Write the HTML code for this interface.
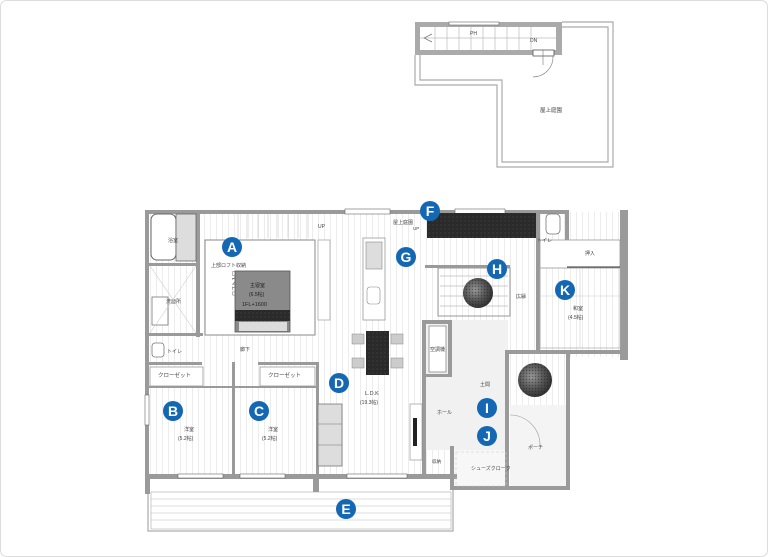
<!DOCTYPE html>
<html><head><meta charset="utf-8"><style>
html,body{margin:0;padding:0;background:#fff}
svg{display:block}
text{font-family:"Liberation Sans","Noto Sans CJK JP",sans-serif;fill:#444}
</style></head><body>
<svg width="768" height="557" viewBox="0 0 768 557" xmlns="http://www.w3.org/2000/svg">
<defs>
<pattern id="fl" width="6" height="10" patternUnits="userSpaceOnUse"><rect width="6" height="10" fill="#fff"/><line x1="0.5" y1="0" x2="0.5" y2="10" stroke="#ececec" stroke-width="1"/></pattern>
<pattern id="dk" width="4" height="4" patternUnits="userSpaceOnUse"><rect width="4" height="4" fill="#2a2a2a"/><circle cx="1" cy="1" r="0.5" fill="#555"/></pattern>
<radialGradient id="tr" cx="0.4" cy="0.4" r="0.6"><stop offset="0" stop-color="#999"/><stop offset="0.6" stop-color="#555"/><stop offset="1" stop-color="#333"/></radialGradient>
<pattern id="tx" width="3" height="3" patternUnits="userSpaceOnUse"><circle cx="1.5" cy="1.5" r="0.7" fill="#222" opacity="0.5"/></pattern>
</defs>
<rect x="0.5" y="0.5" width="767" height="556" rx="6" fill="#fff" stroke="#ddd"/>

<!-- Roof -->
<path d="M562 22 H613 V167 H497 V85 H415 V55" fill="none" stroke="#aaa" stroke-width="1.2"/>
<path d="M562 27 H608 V162 H502 V80 H420 V55" fill="none" stroke="#aaa" stroke-width="1.2"/>
<rect x="415" y="22" width="147" height="33" fill="#aaa"/>
<rect x="420" y="27" width="136" height="23" fill="#fff"/>
<rect x="449" y="22" width="50" height="3" fill="#fff" stroke="#666" stroke-width="0.6"/>
<g stroke="#bbb" stroke-width="0.7">
<line x1="420" y1="38" x2="556" y2="38"/>
<line x1="435" y1="27" x2="435" y2="50"/><line x1="447" y1="27" x2="447" y2="50"/><line x1="459" y1="27" x2="459" y2="50"/><line x1="471" y1="27" x2="471" y2="50"/><line x1="483" y1="27" x2="483" y2="50"/><line x1="495" y1="27" x2="495" y2="50"/><line x1="507" y1="27" x2="507" y2="50"/><line x1="519" y1="27" x2="519" y2="50"/><line x1="531" y1="27" x2="531" y2="50"/>
</g>
<path d="M432 34 L424 38 L432 42" fill="none" stroke="#777" stroke-width="0.7"/>
<text x="470" y="35" font-size="5">PH</text>
<text x="530" y="42" font-size="5">DN</text>
<rect x="533" y="50" width="21" height="6" fill="#fff" stroke="#555" stroke-width="0.8"/>
<path d="M533 77 A 20 20 0 0 0 553 56" fill="none" stroke="#888" stroke-width="0.7"/>
<line x1="543" y1="50" x2="543" y2="65" stroke="#777" stroke-width="0.6"/>
<text x="540" y="112" font-size="5.5">屋上庭園</text>

<!-- Deck E -->
<rect x="148" y="478" width="305" height="53" fill="#fff" stroke="#999" stroke-width="1"/>
<rect x="151" y="492" width="300" height="37" fill="#fff" stroke="#aaa" stroke-width="0.6"/>
<g stroke="#bbb" stroke-width="0.6"><line x1="151" y1="499" x2="451" y2="499"/><line x1="151" y1="506" x2="451" y2="506"/><line x1="151" y1="513" x2="451" y2="513"/><line x1="151" y1="520" x2="451" y2="520"/></g>

<!-- floor -->
<path d="M147 212 H628 V357 H570 V490 H452 V478 H147 Z" fill="url(#fl)"/>
<rect x="425" y="320" width="83" height="130" fill="#f1f1f1"/>
<rect x="510" y="405" width="58" height="84" fill="#f4f4f4"/>
<rect x="454" y="450" width="54" height="38" fill="#f7f7f7"/>

<!-- walls -->
<g fill="#9a9a9a">
<rect x="145" y="210" width="400" height="4"/>
<rect x="145" y="210" width="4" height="270"/>
<rect x="145" y="474" width="312" height="5"/>
<rect x="313" y="474" width="6" height="18"/>
<rect x="145" y="478" width="5" height="16"/>
<rect x="545" y="210" width="20" height="4"/>
<rect x="620" y="210" width="8" height="150"/>
<rect x="565" y="210" width="4" height="30"/>
<rect x="505" y="350" width="123" height="4"/>
<rect x="505" y="350" width="4" height="138"/>
<rect x="566" y="350" width="4" height="140"/>
<rect x="450" y="446" width="4" height="44"/>
<rect x="450" y="486" width="120" height="4"/>
<rect x="422" y="320" width="4" height="158"/>
<rect x="422" y="320" width="30" height="4"/>
<rect x="448" y="320" width="4" height="55"/>
<rect x="422" y="374" width="30" height="3"/>
<rect x="425" y="265" width="85" height="3"/>
<rect x="536" y="210" width="4" height="140"/>
<rect x="196" y="212" width="4" height="125"/>
<rect x="147" y="333" width="56" height="3"/>
<rect x="147" y="263" width="52" height="3"/>
<rect x="147" y="362" width="55" height="3"/>
<rect x="232" y="362" width="3" height="115"/>
<rect x="316" y="362" width="3" height="115"/>
<rect x="258" y="362" width="58" height="3"/>
<rect x="147" y="386" width="85" height="2"/>
<rect x="235" y="386" width="81" height="2"/>
</g>
<!-- windows -->
<g fill="#fff" stroke="#666" stroke-width="0.6">
<rect x="345" y="209" width="45" height="5"/>
<rect x="455" y="209" width="50" height="5"/>
<rect x="178" y="474" width="45" height="4"/>
<rect x="240" y="474" width="45" height="4"/>
<rect x="347" y="474" width="60" height="4"/>
<rect x="145" y="395" width="4" height="30"/>
</g>
<!-- stairs top dark -->
<rect x="427" y="213" width="109" height="25" fill="url(#dk)"/>
<!-- stair slats H -->
<g stroke="#bbb" stroke-width="0.7"><line x1="440" y1="276" x2="508" y2="276"/><line x1="440" y1="286" x2="508" y2="286"/><line x1="440" y1="296" x2="508" y2="296"/><line x1="440" y1="306" x2="508" y2="306"/></g>
<rect x="438" y="268" width="72" height="48" fill="none" stroke="#999" stroke-width="1"/>
<circle cx="478" cy="293" r="15" fill="url(#tr)"/><circle cx="478" cy="293" r="15" fill="url(#tx)"/>
<circle cx="535" cy="380" r="17" fill="url(#tr)"/><circle cx="535" cy="380" r="17" fill="url(#tx)"/>
<!-- upper stairs -->
<g stroke="#ccc" stroke-width="0.7"><line x1="238" y1="214" x2="238" y2="238"/><line x1="248" y1="214" x2="248" y2="238"/><line x1="258" y1="214" x2="258" y2="238"/><line x1="268" y1="214" x2="268" y2="238"/><line x1="278" y1="214" x2="278" y2="238"/><line x1="288" y1="214" x2="288" y2="238"/><line x1="298" y1="214" x2="298" y2="238"/><line x1="308" y1="214" x2="308" y2="238"/></g>
<text x="318" y="228" font-size="5">UP</text>

<!-- bath -->
<rect x="151" y="214" width="25" height="46" rx="6" fill="#fff" stroke="#666" stroke-width="1"/>
<rect x="176" y="214" width="20" height="47" fill="#ddd" stroke="#666" stroke-width="0.8"/>
<text x="168" y="242" font-size="5">浴室</text>
<rect x="152" y="297" width="16" height="28" fill="#fff" stroke="#777" stroke-width="0.8"/>
<text x="166" y="303" font-size="5">洗面所</text>
<line x1="150" y1="266" x2="196" y2="333" stroke="#ccc" stroke-width="0.6"/><line x1="196" y1="266" x2="150" y2="333" stroke="#ccc" stroke-width="0.6"/>
<rect x="152" y="343" width="12" height="14" rx="3" fill="#fff" stroke="#777" stroke-width="0.8"/>
<text x="167" y="353" font-size="5">トイレ</text>

<!-- loft & master -->
<rect x="205" y="240" width="110" height="95" fill="#fff" stroke="#888" stroke-width="1"/>
<text x="211" y="267" font-size="5">上部ロフト収納</text>
<text x="215" y="305" font-size="5" transform="rotate(-90 221 290)">ロフト入口</text>
<rect x="235" y="271" width="55" height="61" fill="#8a8a8a" stroke="#555" stroke-width="0.8"/>
<rect x="235" y="310" width="55" height="11" fill="url(#dk)"/>
<rect x="239" y="322" width="48" height="9" fill="#ddd"/>
<text x="250" y="287" font-size="5" style="fill:#222">主寝室</text>
<text x="249" y="296" font-size="5" style="fill:#222">(6.5帖)</text>
<text x="242" y="306" font-size="5.5" style="fill:#222">1FL+1600</text>
<rect x="318" y="240" width="12" height="80" fill="#fff" stroke="#aaa" stroke-width="0.8"/>

<!-- kitchen -->
<rect x="363" y="238" width="22" height="82" fill="#fff" stroke="#999" stroke-width="0.8"/>
<rect x="366" y="242" width="16" height="27" fill="#ddd" stroke="#888" stroke-width="0.6"/>
<rect x="367" y="287" width="13" height="17" rx="3" fill="#fff" stroke="#888" stroke-width="0.6"/>
<text x="393" y="224" font-size="5">屋上庭園</text><text x="413" y="230" font-size="4.5">UP</text>
<!-- dining -->
<rect x="366" y="331" width="23" height="44" fill="url(#dk)"/>
<g fill="#ccc" stroke="#888" stroke-width="0.5"><rect x="352" y="334" width="12" height="10"/><rect x="352" y="358" width="12" height="10"/><rect x="391" y="334" width="12" height="10"/><rect x="391" y="358" width="12" height="10"/></g>
<text x="365" y="395" font-size="5.5">L.D.K</text>
<text x="360" y="404" font-size="5">(19.3帖)</text>
<rect x="429" y="326" width="17" height="46" fill="#fff" stroke="#888" stroke-width="0.8"/>
<text x="430" y="351" font-size="5">空調機</text>
<!-- sofa -->
<rect x="318" y="404" width="24" height="62" fill="#ddd" stroke="#777" stroke-width="0.8"/>
<line x1="318" y1="424" x2="342" y2="424" stroke="#777" stroke-width="0.6"/><line x1="318" y1="445" x2="342" y2="445" stroke="#777" stroke-width="0.6"/>
<rect x="410" y="404" width="12" height="56" fill="#fff" stroke="#888" stroke-width="0.6"/>
<rect x="413" y="418" width="4" height="28" fill="#222"/>

<!-- closets -->
<rect x="150" y="367" width="53" height="19" fill="#fff" stroke="#999" stroke-width="0.8"/>
<rect x="260" y="367" width="55" height="19" fill="#fff" stroke="#999" stroke-width="0.8"/>
<text x="158" y="377" font-size="5.5">クローゼット</text>
<text x="268" y="377" font-size="5.5">クローゼット</text>
<text x="240" y="351" font-size="5">廊下</text>
<text x="184" y="431" font-size="5">洋室</text><text x="178" y="440" font-size="5">(5.2帖)</text>
<text x="268" y="431" font-size="5">洋室</text><text x="262" y="440" font-size="5">(5.2帖)</text>

<!-- right side -->
<rect x="540" y="240" width="80" height="28" fill="#fff" stroke="#999" stroke-width="0.8"/>
<line x1="567" y1="267" x2="620" y2="267" stroke="#333" stroke-width="1"/>
<text x="585" y="255" font-size="5">押入</text>
<rect x="540" y="268" width="80" height="80" fill="none" stroke="#aaa" stroke-width="0.7"/>
<line x1="580" y1="268" x2="580" y2="348" stroke="#ccc" stroke-width="0.6"/><line x1="540" y1="296" x2="620" y2="296" stroke="#ccc" stroke-width="0.6"/>
<text x="573" y="310" font-size="5">和室</text><text x="568" y="319" font-size="5">(4.5帖)</text>
<text x="516" y="298" font-size="5">広縁</text>
<rect x="546" y="214" width="14" height="20" rx="4" fill="#fff" stroke="#777" stroke-width="0.8"/>
<text x="537" y="242" font-size="5">トイレ</text>
<text x="480" y="386" font-size="5">土間</text>
<text x="437" y="414" font-size="5">ホール</text>
<text x="528" y="449" font-size="5">ポーチ</text>
<rect x="456" y="452" width="50" height="34" fill="none" stroke="#ccc" stroke-dasharray="3 2" stroke-width="0.6"/>
<text x="471" y="470" font-size="5">シューズクローク</text>
<text x="432" y="463" font-size="4.5">収納</text>
<path d="M510 415 A 30 30 0 0 1 540 445" fill="none" stroke="#999" stroke-width="0.6"/>

<!-- markers -->
<g font-family="Liberation Sans, sans-serif" font-weight="bold" font-size="14" text-anchor="middle">
<g fill="#1468b3">
<circle cx="232" cy="247" r="10"/><circle cx="173" cy="411" r="10"/><circle cx="259" cy="411" r="10"/>
<circle cx="339" cy="383" r="10"/><circle cx="346" cy="509" r="10"/><circle cx="430" cy="211" r="10"/>
<circle cx="406" cy="257" r="10"/><circle cx="497" cy="269" r="10"/><circle cx="487" cy="408" r="10"/>
<circle cx="487" cy="436" r="10"/><circle cx="565" cy="290" r="10"/>
</g>
<g>
<text x="232" y="252" style="fill:#fff">A</text><text x="173" y="416" style="fill:#fff">B</text><text x="259" y="416" style="fill:#fff">C</text>
<text x="339" y="388" style="fill:#fff">D</text><text x="346" y="514" style="fill:#fff">E</text><text x="430" y="216" style="fill:#fff">F</text>
<text x="406" y="262" style="fill:#fff">G</text><text x="497" y="274" style="fill:#fff">H</text><text x="487" y="413" style="fill:#fff">I</text>
<text x="487" y="441" style="fill:#fff">J</text><text x="565" y="295" style="fill:#fff">K</text>
</g>
</g>
</svg>
</body></html>
